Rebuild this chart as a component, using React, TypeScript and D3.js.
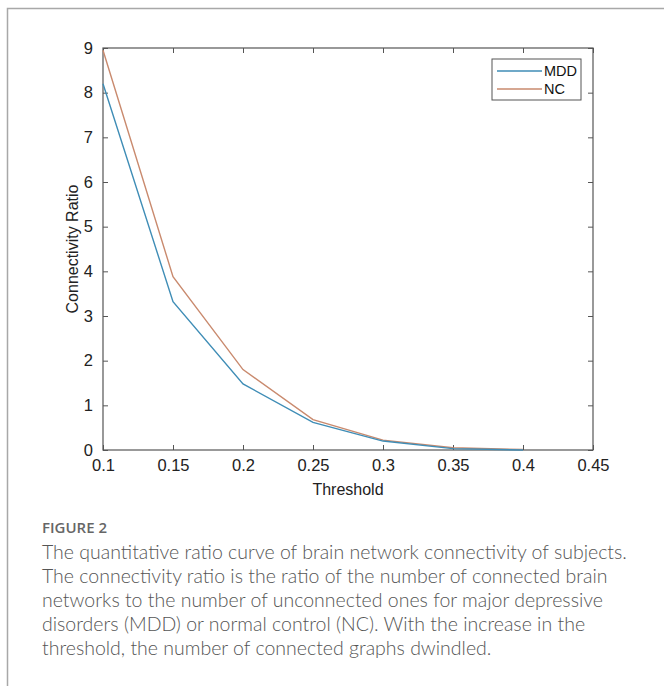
import React, { useEffect, useRef } from 'react';
import * as d3 from 'd3';

const thresholds = [0.1, 0.15, 0.2, 0.25, 0.3, 0.35, 0.4];
const mddValues = [8.2, 3.32, 1.48, 0.62, 0.2, 0.03, 0.0];
const ncValues = [8.95, 3.88, 1.8, 0.68, 0.22, 0.05, 0.01];
const seriesNames = ['MDD', 'NC'];
const seriesColors = ['#3f8db6', '#c98a6e'];
const xTicks = [0.1, 0.15, 0.2, 0.25, 0.3, 0.35, 0.4, 0.45];
const yTicks = [0, 1, 2, 3, 4, 5, 6, 7, 8, 9];
const captionTitle = 'FIGURE 2';
const captionLines = [
  'The quantitative ratio curve of brain network connectivity of subjects.',
  'The connectivity ratio is the ratio of the number of connected brain',
  'networks to the number of unconnected ones for major depressive',
  'disorders (MDD) or normal control (NC). With the increase in the',
  'threshold, the number of connected graphs dwindled.',
];

export default function App() {
  const ref = useRef<SVGSVGElement>(null);

  useEffect(() => {
    const svg = d3.select(ref.current);
    svg.selectAll('*').remove();

    const margin = { top: 48, left: 103 };
    const width = 490, height = 402;
    const font = 'Liberation Sans, Arial, sans-serif';

    // page frame
    svg.append('path')
      .attr('d', 'M7.5,686 L7.5,8.5 L664,8.5')
      .attr('fill', 'none')
      .attr('stroke', '#a8a8a8')
      .attr('stroke-width', 1.5);

    const g = svg.append('g').attr('transform', `translate(${margin.left},${margin.top})`);

    const x = d3.scaleLinear().domain([0.1, 0.45]).range([0, width]);
    const y = d3.scaleLinear().domain([0, 9]).range([height, 0]);

    const axisColor = '#555';

    const styleAxis = (sel: any, showLabels: boolean) => {
      sel.attr('font-size', null).attr('font-family', null);
      sel.select('.domain').remove();
      sel.selectAll('line').attr('stroke', axisColor);
      sel.selectAll('text')
        .attr('fill', '#222')
        .style('font-family', font)
        .style('font-size', '16.5px')
        .style('display', showLabels ? null : 'none');
    };

    g.append('g')
      .attr('transform', `translate(0,${height})`)
      .call(d3.axisBottom(x).tickValues(xTicks).tickSize(-5).tickPadding(9).tickFormat(d => String(d)))
      .call((s: any) => styleAxis(s, true));
    g.append('g')
      .call(d3.axisTop(x).tickValues(xTicks).tickSize(-5).tickFormat(() => ''))
      .call((s: any) => styleAxis(s, false));
    g.append('g')
      .call(d3.axisLeft(y).tickValues(yTicks).tickSize(-5).tickPadding(10).tickFormat(d3.format('d')))
      .call((s: any) => styleAxis(s, true));
    g.append('g')
      .attr('transform', `translate(${width},0)`)
      .call(d3.axisRight(y).tickValues(yTicks).tickSize(-5).tickFormat(() => ''))
      .call((s: any) => styleAxis(s, false));

    g.append('rect')
      .attr('width', width)
      .attr('height', height)
      .attr('fill', 'none')
      .attr('stroke', axisColor)
      .attr('stroke-width', 1.2);

    const line = d3.line<number>()
      .x((_, i) => x(thresholds[i]))
      .y(d => y(d));

    [ncValues, mddValues].forEach((vals, k) => {
      const idx = k === 0 ? 1 : 0;
      g.append('path')
        .datum(vals)
        .attr('d', line)
        .attr('fill', 'none')
        .attr('stroke', seriesColors[idx])
        .attr('stroke-width', 1.4);
    });

    // legend
    const lg = g.append('g').attr('transform', `translate(${389},${11})`);
    lg.append('rect')
      .attr('width', 89)
      .attr('height', 41)
      .attr('fill', '#fff')
      .attr('stroke', axisColor)
      .attr('stroke-width', 1);
    seriesNames.forEach((name, i) => {
      const yy = 12 + i * 18;
      lg.append('line')
        .attr('x1', 5).attr('x2', 50)
        .attr('y1', yy).attr('y2', yy)
        .attr('stroke', seriesColors[i])
        .attr('stroke-width', 1.4);
      lg.append('text')
        .attr('x', 52).attr('y', yy)
        .attr('dy', '0.35em')
        .style('font-family', font)
        .style('font-size', '14.5px')
        .attr('fill', '#111')
        .text(name);
    });

    g.append('text')
      .attr('x', width / 2)
      .attr('y', height + 45)
      .attr('text-anchor', 'middle')
      .style('font-family', font)
      .style('font-size', '16px')
      .attr('fill', '#222')
      .text('Threshold');

    g.append('text')
      .attr('transform', 'rotate(-90)')
      .attr('x', -height / 2)
      .attr('y', -25)
      .attr('text-anchor', 'middle')
      .style('font-family', font)
      .style('font-size', '16px')
      .attr('fill', '#222')
      .text('Connectivity Ratio');

    // caption
    svg.append('text')
      .attr('x', 42)
      .attr('y', 533)
      .style('font-family', 'Open Sans, sans-serif')
      .style('font-size', '15px')
      .style('font-weight', 600)
      .attr('fill', '#666')
      .text(captionTitle);

    svg.selectAll('.cap')
      .data(captionLines)
      .join('text')
      .attr('class', 'cap')
      .attr('x', 42)
      .attr('y', (_, i) => 559 + i * 24)
      .style('font-family', 'Lato, sans-serif')
      .style('font-size', '19.5px')
      .style('font-weight', 300)
      .attr('fill', '#555')
      .text(d => d);
  }, []);

  return (
    <svg ref={ref} width={664} height={686}
      style={{ position: 'absolute', left: 0, top: 0, background: '#fff' }} />
  );
}
